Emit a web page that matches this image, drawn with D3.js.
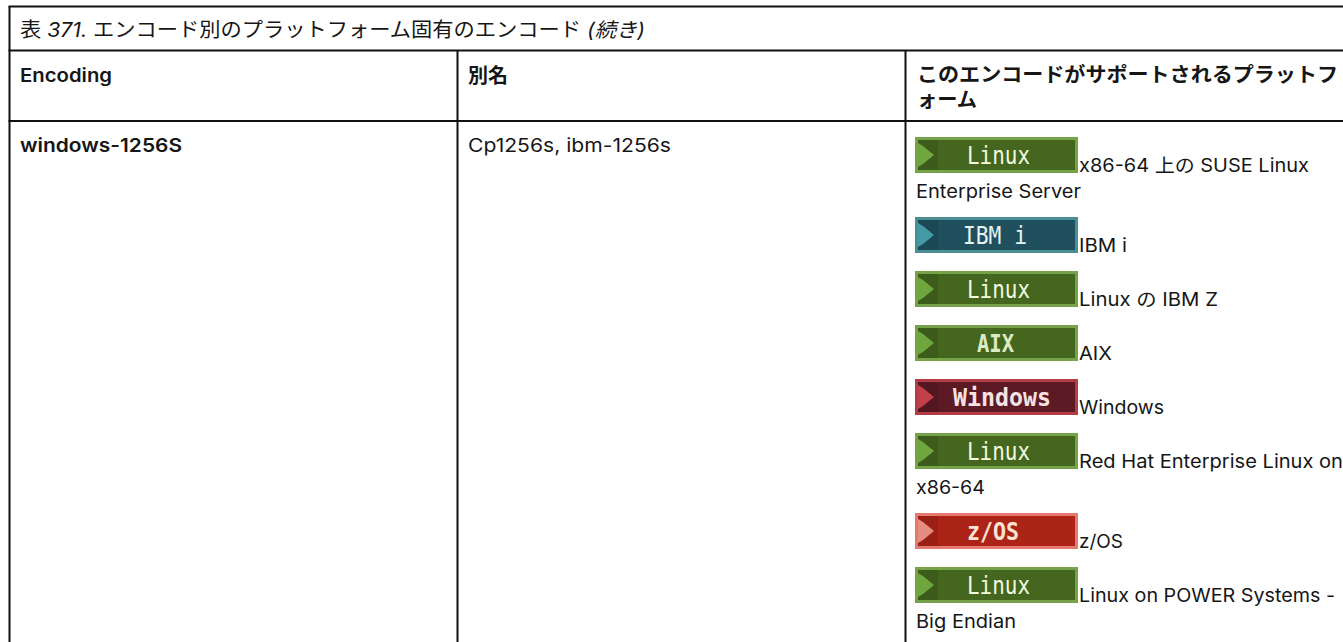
<!DOCTYPE html>
<html>
<head>
<meta charset="utf-8">
<script src="https://cdnjs.cloudflare.com/ajax/libs/d3/7.8.5/d3.min.js"></script>
<style>
  html, body {margin:0; padding:0; background:white; overflow:hidden}
  text {font-family:Inter,"Noto Sans CJK JP",sans-serif; fill:#161616}
</style>
</head>
<body>
<svg id="table"></svg>
<script>
var width = 1343, height = 642

// table content
var caption = ['表 ', '371.', ' エンコード別のプラットフォーム固有のエンコード ', '(続き)']
var columns = ['Encoding', '別名', 'このエンコードがサポートされるプラットフ']
var columnWrap = 'ォーム'
var encodings = ['windows-1256S']
var aliases = ['Cp1256s, ibm-1256s']
var badges = ['Linux', 'IBM i', 'Linux', 'AIX', 'Windows', 'Linux', 'z/OS', 'Linux']
var platforms = [
  ['x86-64 上の SUSE Linux', 'Enterprise Server'],
  ['IBM i'],
  ['Linux の IBM Z'],
  ['AIX'],
  ['Windows'],
  ['Red Hat Enterprise Linux on', 'x86-64'],
  ['z/OS'],
  ['Linux on POWER Systems -', 'Big Endian']
]

var badgeStyle = {
  'Linux':   {edge:'#76a347', body:'#44661f', arrow:'#6fa63e', x:52, fit:63, ink:'#f2fadf', weight:400},
  'AIX':     {edge:'#76a347', body:'#44661f', arrow:'#6fa63e', x:62, fit:37, ink:'#dcebc4', weight:700},
  'IBM i':   {edge:'#4b8f96', body:'#20505e', arrow:'#449ba6', x:48, fit:64, ink:'#e6f4f4', weight:400},
  'Windows': {edge:'#b23c48', body:'#5c1a24', arrow:'#c0404c', x:38, fit:98, ink:'#f6e2e2', weight:700},
  'z/OS':    {edge:'#e5786f', body:'#ac2418', arrow:'#e58d80', x:52, fit:52, ink:'#fbe3d4', weight:700}
}

var svg = d3.select('#table').attr('width', width).attr('height', height)
  .style('display', 'block')

// rules
var col = [9.5, 457.5, 905.5]
var ruleY = [6.5, 50.5, 121]

function rule(x1, y1, x2, y2){
  svg.append('line').attr('x1', x1).attr('y1', y1).attr('x2', x2).attr('y2', y2)
    .attr('stroke', '#111').attr('stroke-width', 2)
}
ruleY.forEach(function(y){rule(col[0]-1, y, width, y)})
rule(col[0], ruleY[0], col[0], height)
rule(col[1], ruleY[1], col[1], height)
rule(col[2], ruleY[1], col[2], height)

function label(str, x, y, size, weight, fit){
  var t = svg.append('text').attr('x', x).attr('y', y)
    .attr('font-size', size).attr('font-weight', weight || 400).text(str)
  if(fit){t.attr('textLength', fit).attr('lengthAdjust', 'spacingAndGlyphs')}
  return t
}

var captionText = label('', 20, 37, 20, 400, 625)
captionText.selectAll('tspan').data(caption)
  .enter().append('tspan')
  .style('font-style', function(d,i){return i%2 ? 'italic' : 'normal'})
  .text(function(d){return d})

label(columns[0], 20, 82, 18.7, 600, 92)
label(encodings[0], 20, 151.5, 18.7, 600, 162)
label(columns[1], 468, 83, 20, 700, 40)
label(aliases[0], 468, 151.5, 18.7, 400, 203)
label(columns[2], 917, 82, 20, 700, 421)
label(columnWrap, 917, 107, 20, 700, 60)

// platform list, each item grows by one text line
var lineStep = 26, itemStep = 54
var badgeX = 915, badgeW = 163, badgeH = 36
var tops = []
platforms.reduce(function(y, lines){
  tops.push(y)
  return y + itemStep + lineStep*(lines.length-1)
}, 137)

var items = svg.selectAll('.platform').data(badges)
  .enter().append('g')
  .classed('platform', true)
  .attr('transform', function(d,i){return 'translate('+badgeX+','+tops[i]+')'})

items.append('rect')
  .attr('width', badgeW).attr('height', badgeH)
  .attr('fill', function(d){return badgeStyle[d].edge})
items.append('rect')
  .attr('x', 3).attr('y', 3)
  .attr('width', badgeW-6).attr('height', badgeH-6)
  .attr('fill', function(d){return badgeStyle[d].body})
items.append('rect')
  .attr('x', 3).attr('y', 3)
  .attr('width', 20).attr('height', badgeH-6)
  .attr('fill', 'black').attr('opacity', 0.1)
items.append('path')
  .attr('d', 'M3,6L8,9L19,18L8,27L3,30Z')
  .attr('fill', function(d){return badgeStyle[d].arrow})
items.append('text')
  .attr('x', function(d){return badgeStyle[d].x})
  .attr('y', 27)
  .attr('font-size', 25)
  .attr('font-weight', function(d){return badgeStyle[d].weight})
  .attr('textLength', function(d){return badgeStyle[d].fit})
  .attr('lengthAdjust', 'spacingAndGlyphs')
  .style('font-family', '"DejaVu Sans Mono",monospace')
  .style('fill', function(d){return badgeStyle[d].ink})
  .text(function(d){return d})

var fits = [230, 165, 48, 139, 33, 85, 264, 69, 44, 256, 100]
var n = 0
platforms.forEach(function(lines, i){
  lines.forEach(function(str, j){
    label(str, j == 0 ? 1079 : 916, tops[i] + 35 + lineStep*j, 18.7, 400, fits[n])
    n++
  })
})
</script>
</body>
</html>
